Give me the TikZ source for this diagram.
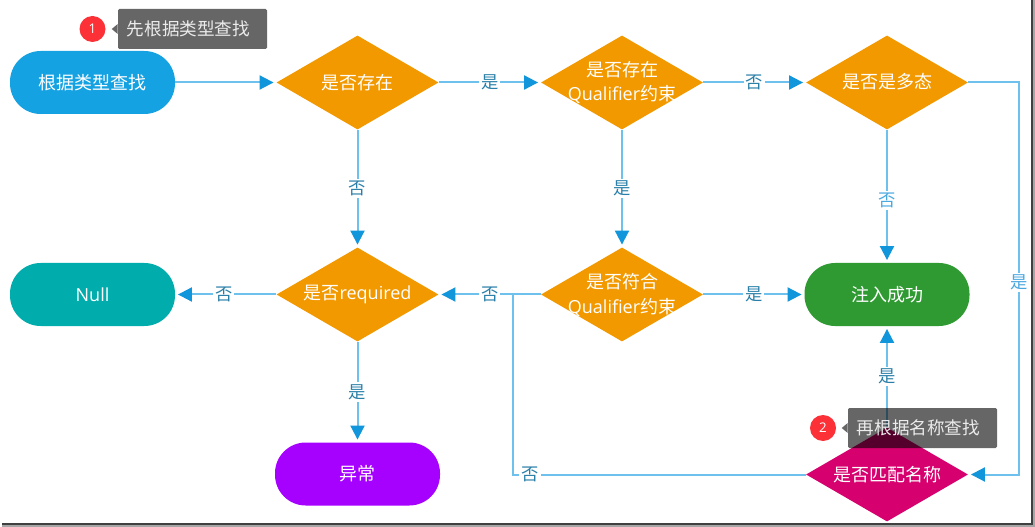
\documentclass[tikz,border=0pt]{standalone}
\usepackage{fontspec}
\setmainfont{Open Sans}
\newfontfamily\cjk{Noto Sans CJK SC}
\newcommand{\cn}[1]{{\cjk #1}}
\usetikzlibrary{arrows.meta, shapes.geometric}
\definecolor{linecol}{HTML}{6EC1EC}
\definecolor{tipcol}{HTML}{1296DB}
\definecolor{labcol}{HTML}{2A7FA8}
\definecolor{lablight}{HTML}{4AA8E0}
\definecolor{startcol}{HTML}{15A2E2}
\definecolor{nullcol}{HTML}{00ACAC}
\definecolor{okcol}{HTML}{2F9A32}
\definecolor{errcol}{HTML}{A600FF}
\definecolor{choicecol}{HTML}{F29900}
\definecolor{namecol}{HTML}{D6006E}
\definecolor{badgecol}{HTML}{FB3137}
\tikzset{
  bigtext/.style={text=white, font=\fontsize{13.5pt}{18.7pt}\selectfont, align=center},
  pill/.style={bigtext, rounded corners=23pt, minimum width=123.75pt, minimum height=47.25pt, inner sep=0pt},
  choice/.style={diamond, fill=#1, minimum width=121.5pt, minimum height=70.5pt, inner sep=0pt},
  choicetext/.style={bigtext, inner sep=0pt},
  flow/.style={linecol, line width=1.5pt, -{Triangle[length=10.5pt,width=10.5pt,color=tipcol]}, shorten >=2pt},
  joinline/.style={linecol, line width=1.5pt},
  lab/.style={fill=white, text=labcol, font=\fontsize{13pt}{15pt}\selectfont\cjk, inner sep=1.5pt},
  tipbox/.style={black, fill opacity=.6},
  tipnote/.style={fill=black, fill opacity=.6, text opacity=1, text=white!92!black, rounded corners=1pt, minimum width=111.75pt, minimum height=30pt, inner sep=0pt, font=\fontsize{13.2pt}{15pt}\selectfont\cjk},
  badge/.style={circle, fill=badgecol, text=white, minimum size=19.5pt, inner sep=0pt, font=\fontsize{10pt}{12pt}\selectfont}
}
\begin{document}
\begin{tikzpicture}[x=.75pt, y=-.75pt]
  \useasboundingbox (0,0) rectangle (1035,527);
  \fill[white] (0,0) rectangle (1035,527);
  % rounded boxes
  \foreach \name/\col/\x/\y/\txt in {start/startcol/92.5/82.5/{\cn{根据类型查找}}, nullbox/nullcol/92.5/294.5/{Null}, okbox/okcol/887/294.5/{\cn{注入成功}}, errbox/errcol/357.5/474/{\cn{异常}}}{
    \node[pill, fill=\col] (\name) at (\x,\y) {\txt};
  }
  % diamonds
  \foreach \name/\col/\x/\y/\txt in {exist/choicecol/357.5/82.5/{\cn{是否存在}}, qualhas/choicecol/622/82.5/{\cn{是否存在}\\Qualifier\cn{约束}}, poly/choicecol/887/82.5/{\raisebox{2pt}{\cn{是否是多态}}}, req/choicecol/357.5/294.5/{\cn{是否}required}, qualok/choicecol/622/294.5/{\cn{是否符合}\\Qualifier\cn{约束}}, match/namecol/887/474.5/{\cn{是否匹配名称}}}{
    \node[choice=\col, label={[choicetext]center:{\txt}}] (\name) at (\x,\y) {};
  }
  \coordinate (rtop) at (1019,82.5);
  \coordinate (rbot) at (1019,474.5);
  \coordinate (lbot) at (513,474.5);
  \coordinate (ljoin) at (513,294.5);
  \draw[flow] (start) -- (exist);
  \draw[flow] (exist) -- node[lab] (l1) {是} (qualhas);
  \draw[flow] (qualhas) -- node[lab] (l2) {否} (poly);
  \draw[flow] (exist) -- node[lab] (l3) {否} (req);
  \draw[flow] (qualhas) -- node[lab] (l4) {是} (qualok);
  \draw[flow] (poly) -- node[lab, pos=.53, text=lablight] (l5) {否} (okbox);
  \draw[flow] (req) -- node[lab, pos=.52] (l6) {否} (nullbox);
  \draw[flow] (req) -- node[lab] (l7) {是} (errbox);
  \draw[flow] (qualok) -- node[lab] (l8) {否} (req);
  \draw[flow] (qualok) -- node[lab] (l9) {是} (okbox);
  \draw[flow] (match) -- node[lab, pos=.5] (l10) {是} (okbox);
  \draw[joinline] (match.west) -- node[lab, pos=.942] (l11) {否} (lbot) -- (ljoin);
  \draw[flow] (poly.east) -- (rtop) -- node[lab, text=lablight, pos=.51] (l12) {是} (rbot) -- (match.east);
  % notes
  \foreach \n/\bx/\by/\tx/\txt in {1/92.5/29/192.5/先根据类型查找, 2/823/428/922.5/再根据名称查找}{
    \node[badge] (badge\n) at (\bx,\by) {\n};
    \node[tipnote] (tip\n) at (\tx,\by) {\txt\kern6pt\relax};
    \fill[tipbox] (tip\n.west) ++(0,-5) -- ++(-6,5) -- ++(6,5) -- cycle;
  }
  % screenshot edge
  \draw[black!35, line width=2.25pt] (1033.5,0) -- (1033.5,525.5) -- (2,525.5);
  \draw[black!75, line width=1.5pt] (1031.5,0) -- (1031.5,523.5) -- (2,523.5);
\end{tikzpicture}
\end{document}
